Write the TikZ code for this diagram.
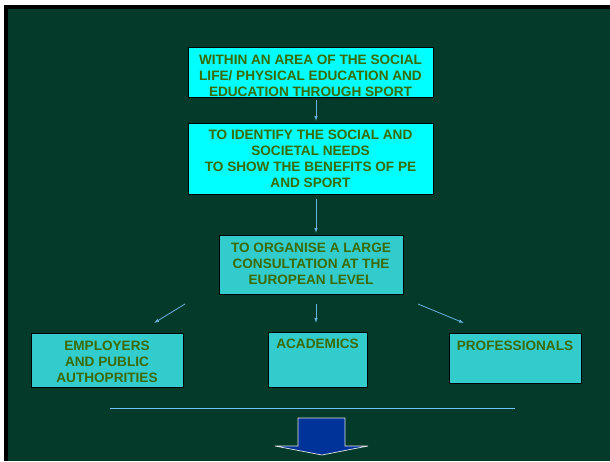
\documentclass[tikz,border=0pt]{standalone}
\usepackage{fontspec}
\setmainfont{Liberation Sans}
\usetikzlibrary{arrows.meta}
\definecolor{bggreen}{RGB}{3,58,42}
\definecolor{txtgreen}{RGB}{60,106,0}
\definecolor{boxcyan}{RGB}{0,255,255}
\definecolor{boxturq}{RGB}{51,204,204}
\definecolor{linkblue}{RGB}{102,178,224}
\definecolor{hrblue}{RGB}{110,200,255}
\definecolor{bigarrow}{RGB}{0,51,153}
\tikzset{
  boxbase/.style={draw=black, line width=0.9pt, inner sep=0pt},
  topbox/.style={boxbase, fill=boxcyan},
  lowbox/.style={boxbase, fill=boxturq},
  boxtext/.style={text=txtgreen, font=\fontsize{13.6}{16}\selectfont\bfseries, align=center, inner sep=0pt},
  link/.style={draw=linkblue, line width=0.8pt, -{Latex[length=5pt,width=3.5pt]}},
}
\begin{document}
\begin{tikzpicture}[x=1pt,y=-1pt]
\useasboundingbox (0,0) rectangle (610,461);
\fill[white] (0,0) rectangle (610,461);
\fill[black] (4,5) rectangle (610,461);
\fill[bggreen] (8,9) rectangle (610,461);
% boxes
\node[topbox, minimum width=245pt, minimum height=50pt] (b1) at (310.5,72) {};
\node[boxtext] (t1) at (310.5,75.5) {WITHIN AN AREA OF THE SOCIAL\\LIFE/ PHYSICAL EDUCATION AND\\EDUCATION THROUGH SPORT};
\node[topbox, minimum width=245pt, minimum height=71pt] (b2) at (310.5,158.5) {};
\node[boxtext] (t2) at (310.5,159) {TO IDENTIFY THE SOCIAL AND\\SOCIETAL NEEDS\\TO SHOW THE BENEFITS OF PE\\AND SPORT};
\node[lowbox, minimum width=184pt, minimum height=59pt] (b3) at (311,264.5) {};
\node[boxtext] (t3) at (311,263.5) {TO ORGANISE A LARGE\\CONSULTATION AT THE\\EUROPEAN LEVEL};
\node[lowbox, minimum width=152pt, minimum height=54pt] (b4) at (107,360) {};
\node[boxtext] (t4) at (107,362) {EMPLOYERS\\AND PUBLIC\\AUTHOPRITIES};
\node[lowbox, minimum width=99pt, minimum height=55pt] (b5) at (317.5,359.5) {};
\node[boxtext] (t5) at (317.5,344) {ACADEMICS};
\node[lowbox, minimum width=132pt, minimum height=50pt] (b6) at (515,358) {};
\node[boxtext] (t6) at (515,346) {PROFESSIONALS};
% connectors
\coordinate (a1s) at (316,100);
\coordinate (a1e) at (316,121);
\draw[link] (a1s) -- (a1e);
\coordinate (a2s) at (316,199);
\coordinate (a2e) at (316,233);
\draw[link] (a2s) -- (a2e);
\coordinate (l1s) at (185,304);
\coordinate (l1e) at (154,323);
\draw[link] (l1s) -- (l1e);
\coordinate (m1s) at (316,304);
\coordinate (m1e) at (316,323);
\draw[link] (m1s) -- (m1e);
\coordinate (r1s) at (418,304);
\coordinate (r1e) at (464,323);
\draw[link] (r1s) -- (r1e);
% horizontal line
\coordinate (h1) at (110,408);
\coordinate (h2) at (515,408);
\draw[hrblue, line width=1pt] (h1) -- (h2);
% block arrow
\draw[fill=bigarrow, draw=white!80!gray, line width=0.7pt]
  (298,418) -- (345,418) -- (345,446) -- (368,446) -- (322,455) -- (275,446) -- (298,446) -- cycle;
\end{tikzpicture}
\end{document}
